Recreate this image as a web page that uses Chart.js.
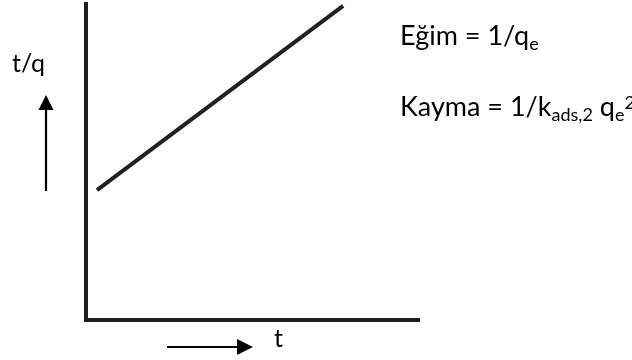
<!DOCTYPE html>
<html>
<head>
<meta charset="utf-8">
<title>t/q – t</title>
<script src="https://cdn.jsdelivr.net/npm/chart.js@4/dist/chart.umd.min.js"></script>
<style>
  html, body { margin: 0; padding: 0; background: #ffffff; }
  #wrap { width: 632px; height: 360px; }
</style>
</head>
<body>
<div id="wrap"><canvas id="c" width="632" height="360"></canvas></div>
<script>
// Pseudo-second-order plot: t/q against t is a straight line
const tValues  = [3.3, 77.2];   // t (arbitrary units)
const tqValues = [41.1, 99.4];  // t/q (arbitrary units)

const xLabel = 't';
const yLabel = 't/q';
const slopeText = [ { t: 'Eğim = 1/q' }, { t: 'e', sub: true } ];
const interceptText = [
  { t: 'Kayma = 1/k' }, { t: 'ads,2', sub: true },
  { t: ' q' }, { t: 'e', sub: true }, { t: '2', sup: true }
];

const INK = '#231f20';
const FONT = 'Lato, "Open Sans", sans-serif';
const FS = 27;

function drawRuns(ctx, runs, x, y) {
  let cx = x;
  for (const r of runs) {
    const small = r.sub || r.sup;
    ctx.font = (small ? Math.round(FS * 0.65) : FS) + 'px ' + FONT;
    const dy = r.sub ? 5 : (r.sup ? -7 : 0);
    ctx.fillText(r.t, cx, y + dy);
    cx += ctx.measureText(r.t).width;
  }
}

const annotations = {
  id: 'annotations',
  afterDraw(chart) {
    const ctx = chart.ctx;
    const a = chart.chartArea;
    ctx.save();
    ctx.fillStyle = '#000';
    ctx.strokeStyle = '#000';
    ctx.textBaseline = 'alphabetic';
    ctx.textAlign = 'left';

    // y-axis caption with upward arrow
    ctx.font = '25px ' + FONT;
    ctx.fillText(yLabel, a.left - 74, a.top + 68);
    const ux = a.left - 40;
    ctx.lineWidth = 2.2;
    ctx.beginPath();
    ctx.moveTo(ux, a.top + 187);
    ctx.lineTo(ux, a.top + 104);
    ctx.stroke();
    ctx.beginPath();
    ctx.moveTo(ux, a.top + 91);
    ctx.lineTo(ux - 7.5, a.top + 106);
    ctx.lineTo(ux + 7.5, a.top + 106);
    ctx.closePath();
    ctx.fill();

    // x-axis caption with rightward arrow
    const ay = a.bottom + 27;
    ctx.beginPath();
    ctx.moveTo(a.left + 81, ay);
    ctx.lineTo(a.left + 156, ay);
    ctx.stroke();
    ctx.beginPath();
    ctx.moveTo(a.left + 167, ay);
    ctx.lineTo(a.left + 151, ay - 8);
    ctx.lineTo(a.left + 151, ay + 8);
    ctx.closePath();
    ctx.fill();
    ctx.font = '25px ' + FONT;
    ctx.fillText(xLabel, a.left + 188, a.bottom + 27);

    // slope and intercept
    drawRuns(ctx, slopeText, 400, 45);
    drawRuns(ctx, interceptText, 400, 116);
    ctx.restore();
  }
};

new Chart(document.getElementById('c'), {
  type: 'line',
  data: {
    datasets: [{
      data: tValues.map((t, i) => ({ x: t, y: tqValues[i] })),
      borderColor: INK,
      borderWidth: 4,
      borderCapStyle: 'butt',
      pointRadius: 0,
      fill: false,
      tension: 0
    }]
  },
  options: {
    responsive: false,
    devicePixelRatio: 1,
    animation: false,
    events: [],
    layout: { padding: { left: 86, right: 213, top: 4, bottom: 40 } },
    plugins: { legend: { display: false }, tooltip: { enabled: false } },
    scales: {
      x: {
        type: 'linear', min: 0, max: 100,
        grid: { display: false, drawTicks: false },
        ticks: { display: false },
        border: { display: true, color: INK, width: 4 },
        afterFit(s) { s.height = 0; }
      },
      y: {
        type: 'linear', min: 0, max: 100,
        grid: { display: false, drawTicks: false },
        ticks: { display: false },
        border: { display: true, color: INK, width: 4 },
        afterFit(s) { s.width = 0; }
      }
    }
  },
  plugins: [annotations]
});
</script>
</body>
</html>
